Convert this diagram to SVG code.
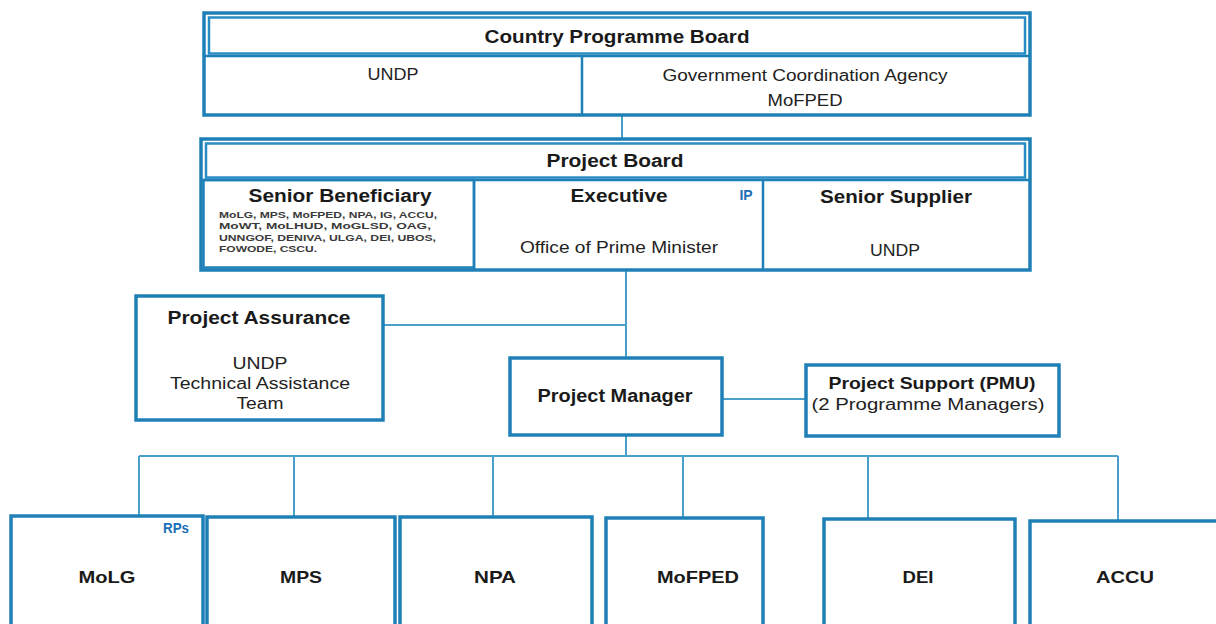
<svg xmlns="http://www.w3.org/2000/svg" width="1216" height="624" viewBox="0 0 1216 624">
<style>
.box{fill:#fff;stroke:#1f80b8;stroke-width:3.5}
.inner{fill:#fff;stroke:#2a8cc4;stroke-width:2.5}
.cell{fill:none;stroke:#1f80b8;stroke-width:2.5}
.con{fill:none;stroke:#4aa0c8;stroke-width:2}
text{font-family:"Liberation Sans",Arial,sans-serif;fill:#1a1a1a;text-anchor:middle}
.b{font-weight:bold;font-size:18px}
.r{font-size:16px;fill:#222}
.s{font-size:9.5px;font-weight:bold;text-anchor:start;fill:#3a3a3a}
.tag{font-weight:bold;font-size:14px;fill:#1a6fb8}
.leaf{font-weight:bold;font-size:17px}
</style>
<rect width="1216" height="624" fill="#fff"/>
<g id="connectors">
<line class="con" x1="622" y1="115" x2="622" y2="139"/>
<line class="con" x1="626" y1="270" x2="626" y2="358"/>
<line class="con" x1="383" y1="325" x2="626" y2="325"/>
<line class="con" x1="722" y1="399" x2="806" y2="399"/>
<line class="con" x1="626" y1="435" x2="626" y2="456"/>
<line class="con" x1="139" y1="456" x2="1118" y2="456"/>
<line class="con" x1="139" y1="456" x2="139" y2="516"/>
<line class="con" x1="294" y1="456" x2="294" y2="517"/>
<line class="con" x1="493" y1="456" x2="493" y2="517"/>
<line class="con" x1="683" y1="456" x2="683" y2="518"/>
<line class="con" x1="868" y1="456" x2="868" y2="519"/>
<line class="con" x1="1118" y1="456" x2="1118" y2="521"/>
</g>
<g id="country-programme-board">
<rect class="box" x="204" y="13" width="826" height="102"/>
<rect class="inner" x="209" y="17.5" width="816" height="36"/>
<line class="cell" x1="204" y1="56" x2="1030" y2="56"/>
<line class="cell" x1="582" y1="56" x2="582" y2="115"/>
<text class="b" x="617" y="43" textLength="265" lengthAdjust="spacingAndGlyphs">Country Programme Board</text>
<text class="r" x="393" y="80" textLength="51" lengthAdjust="spacingAndGlyphs">UNDP</text>
<text class="r" x="805" y="81" textLength="285" lengthAdjust="spacingAndGlyphs">Government Coordination Agency</text>
<text class="r" x="805" y="106" textLength="75" lengthAdjust="spacingAndGlyphs">MoFPED</text>
</g>
<g id="project-board">
<rect class="box" x="201" y="139" width="829" height="131"/>
<rect class="inner" x="206" y="143.5" width="819" height="34"/>
<line class="cell" x1="201" y1="180" x2="1030" y2="180"/>
<rect class="cell" x="203.5" y="180" width="270.5" height="87.5"/>
<line class="cell" x1="474" y1="180" x2="474" y2="270"/>
<line class="cell" x1="763" y1="180" x2="763" y2="270"/>
<text class="b" x="615" y="167" textLength="137" lengthAdjust="spacingAndGlyphs">Project Board</text>
<text class="b" x="340" y="202" textLength="183" lengthAdjust="spacingAndGlyphs">Senior Beneficiary</text>
<text class="s" x="219" y="218" textLength="218" lengthAdjust="spacingAndGlyphs">MoLG, MPS, MoFPED, NPA, IG, ACCU,</text>
<text class="s" x="219" y="229" textLength="212" lengthAdjust="spacingAndGlyphs">MoWT, MoLHUD, MoGLSD, OAG,</text>
<text class="s" x="219" y="241" textLength="217" lengthAdjust="spacingAndGlyphs">UNNGOF, DENIVA, ULGA, DEI, UBOS,</text>
<text class="s" x="219" y="252" textLength="98" lengthAdjust="spacingAndGlyphs">FOWODE, CSCU.</text>
<text class="b" x="619" y="202" textLength="97" lengthAdjust="spacingAndGlyphs">Executive</text>
<text class="tag" x="746" y="200">IP</text>
<text class="r" x="619" y="253" textLength="198" lengthAdjust="spacingAndGlyphs">Office of Prime Minister</text>
<text class="b" x="896" y="203" textLength="152" lengthAdjust="spacingAndGlyphs">Senior Supplier</text>
<text class="r" x="895" y="256" textLength="50" lengthAdjust="spacingAndGlyphs">UNDP</text>
</g>
<g id="project-assurance">
<rect class="box" x="136" y="296" width="247" height="124"/>
<text class="b" x="259" y="324" textLength="183" lengthAdjust="spacingAndGlyphs">Project Assurance</text>
<text class="r" x="260" y="369" textLength="55" lengthAdjust="spacingAndGlyphs">UNDP</text>
<text class="r" x="260" y="389" textLength="180" lengthAdjust="spacingAndGlyphs">Technical Assistance</text>
<text class="r" x="260" y="409" textLength="47" lengthAdjust="spacingAndGlyphs">Team</text>
</g>
<g id="project-manager">
<rect class="box" x="510" y="358" width="212" height="77"/>
<text class="b" x="615" y="402" textLength="155" lengthAdjust="spacingAndGlyphs">Project Manager</text>
</g>
<g id="project-support">
<rect class="box" x="806" y="365" width="253" height="71"/>
<text class="b" x="932" y="389" style="font-size:17px" textLength="207" lengthAdjust="spacingAndGlyphs">Project Support (PMU)</text>
<text class="r" x="928" y="410" textLength="233" lengthAdjust="spacingAndGlyphs">(2 Programme Managers)</text>
</g>
<g id="molg">
<rect class="box" x="11" y="516" width="192" height="120"/>
<text class="tag" x="176" y="533" textLength="26" lengthAdjust="spacingAndGlyphs">RPs</text>
<text class="leaf" x="107" y="583" textLength="57" lengthAdjust="spacingAndGlyphs">MoLG</text>
</g>
<g id="mps">
<rect class="box" x="207" y="517" width="188" height="120"/>
<text class="leaf" x="301" y="583" textLength="42" lengthAdjust="spacingAndGlyphs">MPS</text>
</g>
<g id="npa">
<rect class="box" x="400" y="517" width="192" height="120"/>
<text class="leaf" x="495" y="583" textLength="42" lengthAdjust="spacingAndGlyphs">NPA</text>
</g>
<g id="mofped">
<rect class="box" x="606" y="518" width="157" height="120"/>
<text class="leaf" x="698" y="583" textLength="82" lengthAdjust="spacingAndGlyphs">MoFPED</text>
</g>
<g id="dei">
<rect class="box" x="824" y="519" width="191" height="120"/>
<text class="leaf" x="918" y="583" textLength="31" lengthAdjust="spacingAndGlyphs">DEI</text>
</g>
<g id="accu">
<rect class="box" x="1030" y="521" width="192" height="120"/>
<text class="leaf" x="1125" y="583" textLength="58" lengthAdjust="spacingAndGlyphs">ACCU</text>
</g>
</svg>
